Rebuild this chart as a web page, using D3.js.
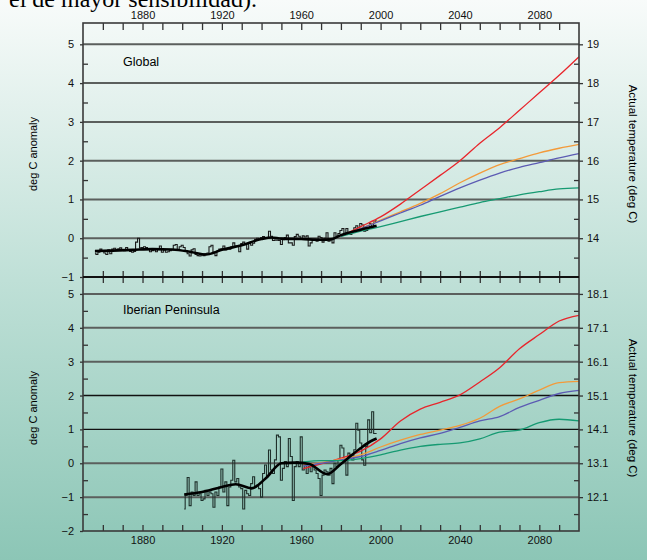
<!DOCTYPE html>
<html>
<head>
<meta charset="utf-8">
<script src="https://cdn.jsdelivr.net/npm/d3@7"></script>
<style>
body { margin: 0; }
svg { display: block; font-family: "Liberation Sans", Arial, sans-serif; }
</style>
</head>
<body>
<svg></svg>
<script>
var globalStart = 1856;
var globalObs = [
  -0.38, -0.42, -0.36, -0.28, -0.34, -0.38, -0.42, -0.30, -0.40, -0.28,
  -0.26, -0.30, -0.27, -0.25, -0.30, -0.32, -0.24, -0.30, -0.34, -0.36,
  -0.34, -0.10, 0.00, -0.25, -0.24, -0.22, -0.24, -0.27, -0.35, -0.32,
  -0.30, -0.35, -0.28, -0.20, -0.36, -0.30, -0.36, -0.35, -0.32, -0.30,
  -0.18, -0.16, -0.30, -0.22, -0.18, -0.24, -0.33, -0.40, -0.46, -0.30,
  -0.27, -0.42, -0.45, -0.46, -0.43, -0.45, -0.40, -0.38, -0.22, -0.18,
  -0.36, -0.45, -0.33, -0.28, -0.27, -0.20, -0.30, -0.27, -0.28, -0.22,
  -0.12, -0.20, -0.20, -0.35, -0.14, -0.10, -0.15, -0.28, -0.13, -0.18,
  -0.13, -0.03, 0.00, -0.02, 0.02, 0.04, 0.02, 0.00, 0.18, 0.05,
  -0.06, -0.05, -0.05, -0.06, -0.16, -0.04, 0.02, 0.08, -0.12, -0.12,
  -0.18, 0.04, 0.10, 0.05, -0.01, 0.06, 0.03, 0.06, -0.20, -0.12,
  -0.04, -0.03, -0.08, 0.05, 0.02, -0.10, 0.00, 0.14, -0.08, -0.02,
  -0.12, 0.14, 0.05, 0.12, 0.20, 0.25, 0.10, 0.25, 0.12, 0.10,
  0.15, 0.27, 0.32, 0.22, 0.38, 0.34, 0.18, 0.20, 0.27, 0.38,
  0.30, 0.42, 0.45
];
var globalSmoothYears = [1856, 1865, 1875, 1885, 1895, 1905, 1912, 1920, 1930, 1940, 1945, 1950, 1960, 1970, 1975, 1980, 1990, 1998];
var globalSmooth = [-0.33, -0.32, -0.30, -0.28, -0.29, -0.36, -0.42, -0.30, -0.18, -0.02, 0.02, -0.01, -0.02, -0.04, -0.03, 0.08, 0.22, 0.32];

var iberiaStart = 1901;
var iberiaObs = [
  -1.35, -0.95, -0.42, -1.25, -0.85, -0.95, -0.55, -0.95, -0.90, -1.10,
  -1.05, -0.80, -0.95, -0.85, -0.90, -1.30, -0.85, -0.95, -0.70, -0.17,
  -0.85, -0.55, -1.25, -0.70, -0.50, 0.09, -0.55, -0.45, -0.70, -0.75,
  -1.35, -0.80, -0.90, -0.95, -0.60, -0.40, -0.70, -0.65, -0.75, -1.00,
  -0.30, -0.05, -0.40, 0.39, -0.20, -0.30, 0.10, 0.83, 0.78, -0.50,
  -0.15, 0.05, -0.10, 0.73, 0.20, -1.10, -0.10, 0.05, -0.10, 0.78,
  -0.20, -0.05, -0.30, -0.10, -0.25, -0.10, -0.20, -0.30, -0.45, -0.95,
  -0.35, -0.20, -0.25, -0.35, -0.15, -0.60, 0.00, -0.10, 0.10, 0.53,
  0.45, 0.10, -0.35, 0.30, 0.25, 0.10, 0.40, 1.18, 0.98, 0.60,
  0.10, -0.06, 0.50, 1.28, 0.90, 1.52, 0.88, 0.88
];
var iberiaSmoothYears = [1901, 1910, 1920, 1927, 1935, 1942, 1950, 1957, 1964, 1973, 1980, 1985, 1990, 1995, 1998];
var iberiaSmooth = [-0.92, -0.85, -0.70, -0.62, -0.74, -0.45, 0.00, 0.02, -0.02, -0.32, -0.02, 0.22, 0.45, 0.65, 0.73];

// scenario projections
var scenarioNames = ["red", "orange", "blue", "green"];
var scenarioColors = ["#e8252b", "#f39a3a", "#5c5bb3", "#169a72"];
var globalProjYears = [1980, 1990, 2000, 2010, 2020, 2030, 2040, 2050, 2060, 2070, 2080, 2090, 2100];
var globalRed =    [0.05, 0.30, 0.55, 0.88, 1.25, 1.62, 2.00, 2.45, 2.85, 3.30, 3.75, 4.20, 4.68];
var globalOrange = [0.05, 0.25, 0.47, 0.68, 0.90, 1.15, 1.43, 1.68, 1.90, 2.05, 2.20, 2.32, 2.42];
var globalBlue =   [0.05, 0.25, 0.45, 0.65, 0.85, 1.08, 1.30, 1.50, 1.68, 1.83, 1.95, 2.07, 2.18];
var globalGreen =  [0.05, 0.18, 0.30, 0.43, 0.56, 0.68, 0.80, 0.92, 1.02, 1.12, 1.20, 1.27, 1.30];

var iberiaProjYears = [1961, 1970, 1980, 1990, 2000, 2010, 2020, 2030, 2040, 2050, 2060, 2070, 2080, 2090, 2100];
var iberiaRed =    [-0.16, -0.02, 0.15, 0.36, 0.72, 1.25, 1.60, 1.80, 2.02, 2.40, 2.82, 3.38, 3.80, 4.20, 4.37];
var iberiaOrange = [-0.05, 0.02, 0.12, 0.25, 0.48, 0.68, 0.85, 0.98, 1.12, 1.33, 1.68, 1.90, 2.16, 2.38, 2.42];
var iberiaBlue =   [-0.08, 0.00, 0.10, 0.20, 0.38, 0.58, 0.75, 0.88, 1.06, 1.25, 1.38, 1.65, 1.86, 2.06, 2.15];
var iberiaGreen =  [0.04, 0.08, 0.08, 0.14, 0.25, 0.39, 0.50, 0.56, 0.60, 0.72, 0.92, 0.98, 1.20, 1.30, 1.25];

var decadeTicks = d3.range(1860, 2100, 10);

var width = 647, height = 560;
var svg = d3.select("svg").attr("width", width).attr("height", height);

var grad = svg.append("defs").append("linearGradient")
    .attr("id", "bg").attr("x1", 0).attr("y1", 0).attr("x2", 0).attr("y2", 1);
grad.append("stop").attr("offset", "0").attr("stop-color", "#f8fbfa");
grad.append("stop").attr("offset", "0.5").attr("stop-color", "#bfe0d7");
grad.append("stop").attr("offset", "1").attr("stop-color", "#8cc6b6");
svg.append("rect").attr("width", width).attr("height", height).attr("fill", "url(#bg)");

svg.append("text")
    .attr("x", 9).attr("y", 7)
    .style("font-family", "'Liberation Serif', 'Times New Roman', serif")
    .style("font-size", "24px")
    .text("el de mayor sensibilidad).");

var x = d3.scaleLinear().domain([1850, 2100]).range([83, 579]);
var left = 83, right = 579;

var panels = [
  {name: "Global", domain: [-1, 5.55], range: [277, 23], offset: 14, fmt: d3.format("d"),
   obs: globalObs, start: globalStart, smoothYears: globalSmoothYears, smooth: globalSmooth,
   projYears: globalProjYears, proj: [globalRed, globalOrange, globalBlue, globalGreen],
   leftTicks: d3.range(-1, 6), rightTicks: d3.range(0, 6), grid: d3.range(0, 6), darkGrid: [],
   obsStroke: "#1a1a1a", labelY: 66},
  {name: "Iberian Peninsula", domain: [-2, 5.5], range: [531, 277], offset: 13.1, fmt: d3.format(".1f"),
   obs: iberiaObs, start: iberiaStart, smoothYears: iberiaSmoothYears, smooth: iberiaSmooth,
   projYears: iberiaProjYears, proj: [iberiaRed, iberiaOrange, iberiaBlue, iberiaGreen],
   leftTicks: d3.range(-2, 6), rightTicks: d3.range(-1, 6), grid: d3.range(-1, 6), darkGrid: [1, 2],
   obsStroke: "#1f302b", labelY: 314}
];

panels.forEach(function (p) {
  var y = d3.scaleLinear().domain(p.domain).range(p.range);
  var g = svg.append("g");

  // grid lines
  g.selectAll("line.grid").data(p.grid).enter().append("line")
      .attr("x1", left).attr("x2", right)
      .attr("y1", function (d) { return y(d); }).attr("y2", function (d) { return y(d); })
      .attr("stroke", function (d) { return p.darkGrid.indexOf(d) >= 0 ? "#111" : "#5b5f5d"; })
      .attr("stroke-width", function (d) { return p.darkGrid.indexOf(d) >= 0 ? 1.4 : 2; });

  // left axis
  var la = g.append("g").attr("transform", "translate(" + left + ",0)")
      .call(d3.axisLeft(y).tickValues(p.leftTicks).tickSize(3).tickPadding(6).tickFormat(d3.format("d")));
  var lm = g.append("g").attr("transform", "translate(" + left + ",0)")
      .call(d3.axisLeft(y).tickValues(p.leftTicks.slice(0, -1).map(function (d) { return d + 0.5; }))
        .tickSize(-5).tickFormat(""));
  // right axis
  var ra = g.append("g").attr("transform", "translate(" + right + ",0)")
      .call(d3.axisRight(y).tickValues(p.rightTicks).tickSize(4).tickPadding(4)
        .tickFormat(function (d) { return p.fmt(d + p.offset); }));
  var rm = g.append("g").attr("transform", "translate(" + right + ",0)")
      .call(d3.axisRight(y).tickValues(p.leftTicks.slice(0, -1).map(function (d) { return d + 0.5; }))
        .tickSize(-5).tickFormat(""));
  [la, lm, ra, rm].forEach(function (a) {
    a.select(".domain").remove();
    a.selectAll("line").attr("stroke", "#333").attr("stroke-width", 1.3);
    a.selectAll("text").style("font-size", "11px").attr("fill", "#111");
  });

  // axis titles
  var mid = (p.range[0] + p.range[1]) / 2 + 4;
  svg.append("text")
      .attr("transform", "translate(37," + mid + ") rotate(-90)")
      .attr("text-anchor", "middle").style("font-size", "11px")
      .text("deg C anomaly");
  svg.append("text")
      .attr("transform", "translate(629," + mid + ") rotate(90)")
      .attr("text-anchor", "middle").style("font-size", "11.5px")
      .text("Actual temperature (deg C)");

  g.append("text").attr("x", 123).attr("y", p.labelY)
      .style("font-size", "12.5px").text(p.name);

  // observed annual values as steps
  var obsPts = p.obs.map(function (v, i) { return [p.start + i, v]; });
  g.append("path").datum(obsPts)
      .attr("fill", "none").attr("stroke", p.obsStroke).attr("stroke-width", 1.1)
      .attr("d", d3.line().curve(d3.curveStep)
        .x(function (d) { return x(d[0]); }).y(function (d) { return y(d[1]); }));

  // projections
  p.proj.forEach(function (series, k) {
    g.append("path").datum(series)
        .attr("fill", "none").attr("stroke", scenarioColors[k]).attr("stroke-width", 1.3)
        .attr("d", d3.line().curve(d3.curveMonotoneX)
          .x(function (d, i) { return x(p.projYears[i]); }).y(function (d) { return y(d); }));
  });

  // smoothed observed
  g.append("path").datum(p.smooth)
      .attr("fill", "none").attr("stroke", "#000").attr("stroke-width", 2.6)
      .attr("d", d3.line().curve(d3.curveMonotoneX)
        .x(function (d, i) { return x(p.smoothYears[i]); }).y(function (d) { return y(d); }));
});

// x axes: top, separator and bottom
var ta = svg.append("g").attr("transform", "translate(0,23)")
    .call(d3.axisTop(x).tickValues(decadeTicks).tickSize(-7).tickPadding(4)
      .tickFormat(function (d) { return d % 40 === 0 ? d : ""; }));
var ma = svg.append("g").attr("transform", "translate(0,277)")
    .call(d3.axisBottom(x).tickValues(decadeTicks).tickSize(6).tickFormat(""));
var mb = svg.append("g").attr("transform", "translate(0,277)")
    .call(d3.axisBottom(x).tickValues(decadeTicks).tickSize(-6).tickFormat(""));
var ba = svg.append("g").attr("transform", "translate(0,531)")
    .call(d3.axisBottom(x).tickValues(decadeTicks).tickSize(-6).tickPadding(5)
      .tickFormat(function (d) { return d % 40 === 0 ? d : ""; }));
[ta, ma, mb, ba].forEach(function (a) {
  a.select(".domain").remove();
  a.selectAll("line").attr("stroke", "#333").attr("stroke-width", 1.3);
  a.selectAll("text").style("font-size", "11px").attr("fill", "#111");
});

// frame and separator
svg.append("rect").attr("x", left).attr("y", 23).attr("width", right - left).attr("height", 531 - 23)
    .attr("fill", "none").attr("stroke", "#3a3a3a").attr("stroke-width", 1.6);
svg.append("line").attr("x1", left).attr("x2", right).attr("y1", 277).attr("y2", 277)
    .attr("stroke", "#111").attr("stroke-width", 1.8);
</script>
</body>
</html>
